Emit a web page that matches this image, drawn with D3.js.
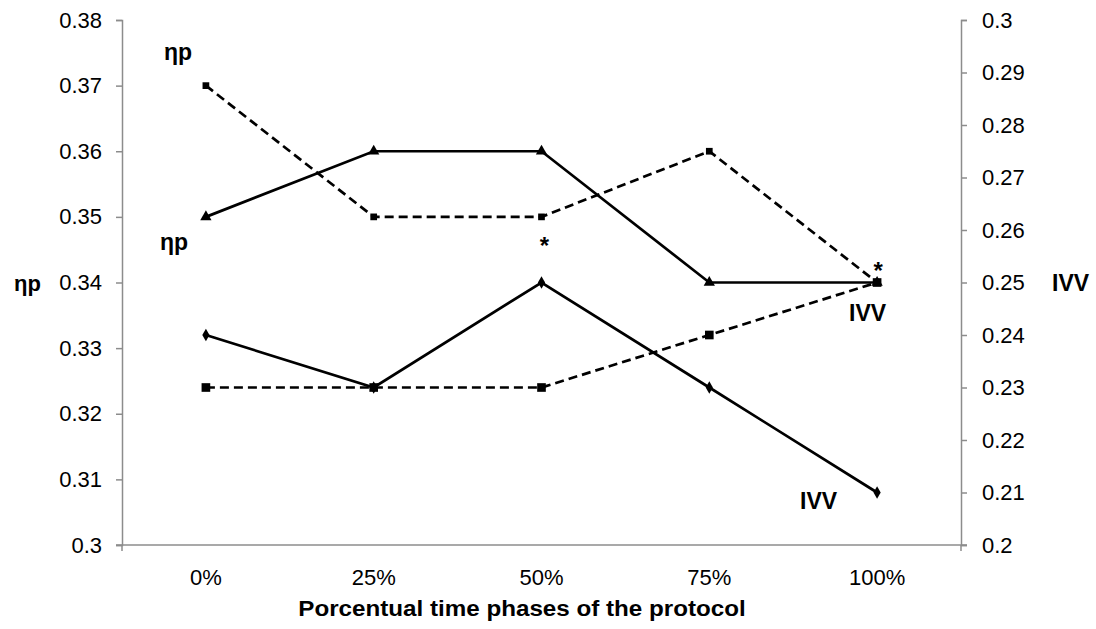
<!DOCTYPE html>
<html>
<head>
<meta charset="utf-8">
<script src="https://cdn.jsdelivr.net/npm/d3@7/dist/d3.min.js"></script>
<style>
  html, body { margin: 0; padding: 0; background: #fff; }
  svg { display: block; }
  text { font-family: "Liberation Sans", Arial, sans-serif; fill: #000; }
</style>
</head>
<body>
<svg id="chart" width="1096" height="629"></svg>
<script>
// Protocol phases (x categories)
const phases = ["0%", "25%", "50%", "75%", "100%"];

// Effect size (ηp) series, left axis
const etaDashed = [0.37, 0.35, 0.35, 0.36, 0.34];
const etaSolid  = [0.35, 0.36, 0.36, 0.34, 0.34];

// IVV series, right axis
const ivvSolid  = [0.24, 0.23, 0.25, 0.23, 0.21];
const ivvDashed = [0.23, 0.23, 0.23, 0.24, 0.25];

// Axis ticks
const leftTicks  = [0.30, 0.31, 0.32, 0.33, 0.34, 0.35, 0.36, 0.37, 0.38];
const rightTicks = [0.20, 0.21, 0.22, 0.23, 0.24, 0.25, 0.26, 0.27, 0.28, 0.29, 0.30];

const svg = d3.select("#chart");
const plotLeft = 122, plotRight = 961, plotTop = 20, plotBottom = 545;
const axisColor = "#8c8c8c";

const x = d3.scaleBand().domain(phases).range([plotLeft, plotRight]);
const yL = d3.scaleLinear().domain([0.30, 0.38]).range([plotBottom, plotTop]);
const yR = d3.scaleLinear().domain([0.20, 0.30]).range([plotBottom, plotTop]);
const cx = d => x(d) + x.bandwidth() / 2;

function fmt(v) { return d3.format(".2f")(v).replace(/0$/, "").replace(/\.$/, ""); }

// Left axis
const gL = svg.append("g").attr("transform", `translate(${plotLeft},0)`)
  .call(d3.axisLeft(yL).tickValues(leftTicks).tickSize(6).tickPadding(14).tickFormat(fmt));
// Right axis
const gR = svg.append("g").attr("transform", `translate(${plotRight},0)`)
  .call(d3.axisRight(yR).tickValues(rightTicks).tickSize(6).tickPadding(15).tickFormat(fmt));
// Bottom axis (ticks only at the ends)
const gB = svg.append("g").attr("transform", `translate(0,${plotBottom})`)
  .call(d3.axisBottom(x).tickSize(0).tickPadding(24));
gB.select(".domain").attr("d", `M${plotLeft - 6},0H${plotRight + 6}`);
[plotLeft, plotRight].forEach(px => gB.append("line").attr("x1", px).attr("x2", px).attr("y1", 0).attr("y2", 6));

[gL, gR, gB].forEach(g => {
  g.select(".domain").attr("stroke", axisColor).attr("stroke-width", 1.5);
  g.selectAll("line").attr("stroke", axisColor).attr("stroke-width", 1.5);
  g.selectAll("text").attr("font-size", 22).attr("fill", "#000")
    .style("font-family", '"Liberation Sans", Arial, sans-serif');
});
gB.selectAll(".tick text").attr("dy", "0.71em");

// Axis titles
svg.append("text").attr("transform", "translate(522,616) scale(1.1,1)").attr("text-anchor", "middle")
  .attr("font-size", 22).attr("font-weight", "bold").text("Porcentual time phases of the protocol");
svg.append("text").attr("x", 14).attr("y", yL(0.34) + 8)
  .attr("font-size", 22).attr("font-weight", "bold").text("ηp");
svg.append("text").attr("x", 1052).attr("y", yR(0.25) + 8)
  .attr("font-size", 23).attr("font-weight", "bold").text("IVV");

// Series lines
const series = [
  { vals: etaDashed, y: yL, dash: "9,5", marker: "smallsquare" },
  { vals: etaSolid,  y: yL, dash: null,  marker: "triangle" },
  { vals: ivvSolid,  y: yR, dash: null,  marker: "diamond" },
  { vals: ivvDashed, y: yR, dash: "9,5", marker: "square" }
];

const symbols = {
  smallsquare: d3.symbol().type(d3.symbolSquare).size(45),
  square: d3.symbol().type(d3.symbolSquare).size(75),
  triangle: d3.symbol().type(d3.symbolTriangle).size(55),
  diamond: d3.symbol().type(d3.symbolDiamond).size(45)
};

series.forEach(s => {
  const pts = phases.map((p, i) => [cx(p), s.y(s.vals[i])]);
  svg.append("path")
    .attr("d", d3.line()(pts))
    .attr("fill", "none").attr("stroke", "#000").attr("stroke-width", 2.7)
    .attr("stroke-dasharray", s.dash);
  svg.selectAll(null).data(pts).enter().append("path")
    .attr("transform", d => `translate(${d[0]},${d[1]})`)
    .attr("d", symbols[s.marker]()).attr("fill", "#000");
});

// Series labels
const labels = [
  { t: "ηp",  px: cx("0%") - 42,   py: yL(0.37) - 26 },
  { t: "ηp",  px: cx("0%") - 46,   py: yL(0.35) + 33 },
  { t: "IVV", px: cx("100%") - 28, py: yR(0.25) + 38 },
  { t: "IVV", px: cx("100%") - 77, py: yR(0.21) + 16 }
];
labels.forEach(l => svg.append("text").attr("x", l.px).attr("y", l.py)
  .attr("font-size", 23).attr("font-weight", "bold").text(l.t));

// Significance markers
svg.append("text").attr("x", cx("50%") + 3).attr("y", yL(0.35) + 37).attr("text-anchor", "middle")
  .attr("font-size", 24).attr("font-weight", "bold").text("*");
svg.append("text").attr("x", cx("100%") + 1).attr("y", yL(0.34) - 4).attr("text-anchor", "middle")
  .attr("font-size", 24).attr("font-weight", "bold").text("*");
</script>
</body>
</html>
